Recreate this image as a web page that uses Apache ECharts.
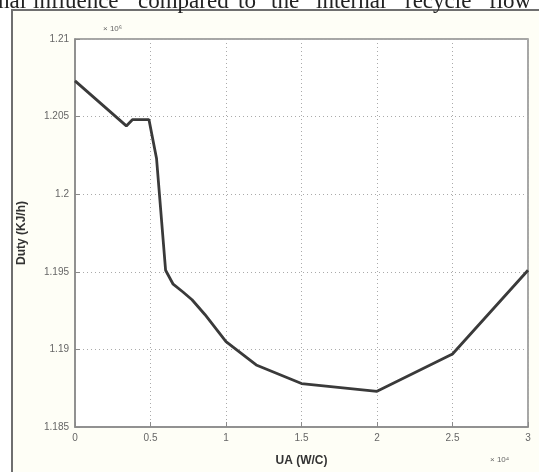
<!DOCTYPE html>
<html>
<head>
<meta charset="utf-8">
<script src="https://cdn.jsdelivr.net/npm/echarts@6/dist/echarts.min.js"></script>
<style>
html,body{margin:0;padding:0;background:#fff;}
#c{width:539px;height:472px;}
</style>
</head>
<body>
<div id="c"></div>
<script>
// Data
var uaValues = [0, 0.34, 0.38, 0.49, 0.54, 0.6, 0.65, 0.715, 0.775, 0.86, 1.0, 1.2, 1.5, 2.0, 2.5, 3.0];
var dutyValues = [1.2073, 1.2044, 1.2048, 1.2048, 1.2023, 1.1951, 1.1942, 1.1937, 1.1932, 1.19225, 1.1905, 1.1890, 1.1878, 1.1873, 1.1897, 1.1951];
var xTicks = [0, 0.5, 1, 1.5, 2, 2.5, 3];
var yTicks = [1.185, 1.19, 1.195, 1.2, 1.205, 1.21];
var xTitle = 'UA (W/C)';
var yTitle = 'Duty (KJ/h)';
var xExp = '× 10⁴';
var yExp = '× 10⁶';
var topWords = ['rmal', 'influence', 'compared', 'to', 'the', 'internal', 'recycle', 'flow'];
var topWordLeft = [-16, 33, 138, 238, 271, 316, 405, 489];

var chart = echarts.init(document.getElementById('c'));
var pts = uaValues.map(function (x, i) { return [x, dutyValues[i]]; });
function fmt(v) { return String(parseFloat(v.toFixed(3))); }
var graphics = [
  { type: 'rect', z: -100, silent: true, shape: { x: 12, y: 10, width: 600, height: 600 },
    style: { fill: '#fefef6', stroke: '#6f6f6f', lineWidth: 2 } },
  { type: 'text', left: 103, top: 25, style: { text: yExp, font: '8px "Liberation Sans"', fill: '#666' } },
  { type: 'text', left: 490, top: 456, style: { text: xExp, font: '8px "Liberation Sans"', fill: '#666' } }
];
topWords.forEach(function (w, i) {
  graphics.push({ type: 'text', x: topWordLeft[i], y: -10, z: 10,
    style: { text: w, font: '23px "Liberation Serif"', fill: '#222' } });
});
chart.setOption({
  backgroundColor: 'transparent',
  animation: false,
  graphic: graphics,
  grid: { left: 75, right: 11, top: 39, bottom: 43, show: true, backgroundColor: '#ffffff',
    borderColor: '#8a8a8a', borderWidth: 1.5 },
  xAxis: {
    type: 'value', min: 0, max: 3, interval: 0.5,
    name: xTitle, nameLocation: 'middle', nameGap: 28,
    nameTextStyle: { fontFamily: 'Liberation Sans', fontSize: 12, fontWeight: 'bold', color: '#333' },
    axisLine: { lineStyle: { color: '#8a8a8a', width: 1.5 } },
    axisTick: { inside: true, length: 5, lineStyle: { color: '#8a8a8a' } },
    axisLabel: { formatter: fmt, fontFamily: 'Liberation Sans', fontSize: 10, color: '#666', margin: 6 },
    splitLine: { show: true, lineStyle: { color: '#aaaaaa', type: [1, 3], width: 1 } }
  },
  yAxis: {
    type: 'value', min: 1.185, max: 1.21, interval: 0.005,
    name: yTitle, nameLocation: 'middle', nameGap: 47,
    nameTextStyle: { fontFamily: 'Liberation Sans', fontSize: 12, fontWeight: 'bold', color: '#333' },
    axisLine: { show: true, lineStyle: { color: '#8a8a8a', width: 1.5 } },
    axisTick: { show: true, inside: true, length: 5, lineStyle: { color: '#8a8a8a' } },
    axisLabel: { formatter: fmt, fontFamily: 'Liberation Sans', fontSize: 10, color: '#666', margin: 6 },
    splitLine: { show: true, lineStyle: { color: '#aaaaaa', type: [1, 3], width: 1 } }
  },
  series: [{
    type: 'line', data: pts, symbol: 'none', smooth: false,
    lineStyle: { color: '#3a3a3a', width: 2.8 }
  }]
});
</script>
</body>
</html>
